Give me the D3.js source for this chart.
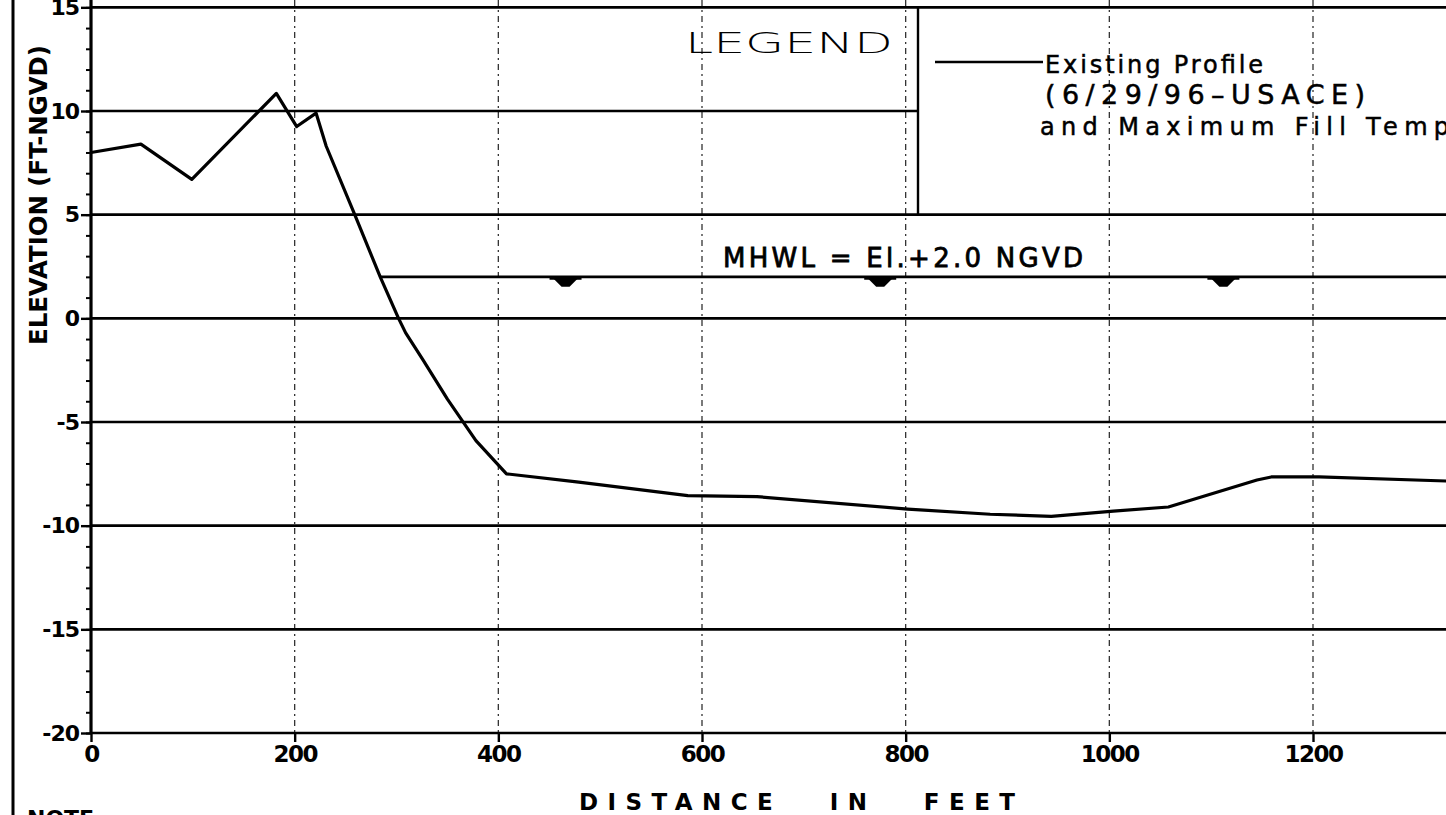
<!DOCTYPE html>
<html>
<head>
<meta charset="utf-8">
<script src="https://cdn.jsdelivr.net/npm/d3@7"></script>
<style>
  html, body { margin: 0; padding: 0; background: #fff; overflow: hidden; }
  svg { display: block; }
  text { font-family: "DejaVu Sans", sans-serif; fill: #000; }
</style>
</head>
<body>
<svg id="chart"></svg>
<script>
// Profile points (distance in feet, elevation ft-NGVD)
const distance = [0, 49, 99, 182, 202, 221, 231, 259, 284, 302, 309, 326, 350, 378, 408, 479, 586, 654, 802, 883, 943, 1004, 1058, 1145, 1159, 1206, 1333];
const elevation = [8.0, 8.4, 6.7, 10.85, 9.25, 9.9, 8.3, 5.0, 2.0, 0.0, -0.7, -2.0, -3.9, -5.9, -7.5, -7.9, -8.55, -8.6, -9.2, -9.45, -9.55, -9.3, -9.1, -7.8, -7.65, -7.65, -7.85];

// Axis ticks
const xTicks = [0, 200, 400, 600, 800, 1000, 1200];
const yTicks = [15, 10, 5, 0, -5, -10, -15, -20];
const yMinor = d3.range(-20, 16);

// Mean high water line and its water level marks
const mhwl = 2.0;
const mhwlStart = 284;
const waterMarks = [466, 775, 1112];

const width = 1446;
const height = 815;
const legendX = 918; // right edge of the LEGEND box

const x = d3.scaleLinear().domain([0, 1200]).range([91, 1313]);
const y = d3.scaleLinear().domain([-20, 10]).range([733, 111]);

const svg = d3.select("#chart").attr("width", width).attr("height", height);
svg.append("rect").attr("width", width).attr("height", height).attr("fill", "#fff");

// page frame line on the left
svg.append("line")
  .attr("x1", 13).attr("x2", 13).attr("y1", 0).attr("y2", height)
  .attr("stroke", "#000").attr("stroke-width", 3);

// dashed vertical grid
svg.append("g")
  .selectAll("line")
  .data(xTicks.slice(1))
  .join("line")
  .attr("x1", (d) => x(d)).attr("x2", (d) => x(d))
  .attr("y1", 0).attr("y2", y(-20))
  .attr("stroke", "#333")
  .attr("stroke-width", 1.3)
  .attr("stroke-dasharray", "6,4,2,4");

// horizontal grid (the 10 ft line stops at the legend box)
svg.append("g")
  .selectAll("line")
  .data(yTicks)
  .join("line")
  .attr("x1", x(0))
  .attr("x2", (d) => (d === 10 ? legendX : width))
  .attr("y1", (d) => y(d)).attr("y2", (d) => y(d))
  .attr("stroke", "#000")
  .attr("stroke-width", 2.6);

// legend box side
svg.append("line")
  .attr("x1", legendX).attr("x2", legendX)
  .attr("y1", y(15)).attr("y2", y(5))
  .attr("stroke", "#000").attr("stroke-width", 2.4);

// minor ticks on y axis
svg.append("g")
  .attr("transform", `translate(${x(0)},0)`)
  .call(d3.axisLeft(y).tickValues(yMinor).tickSize(5).tickSizeOuter(0).tickFormat(""))
  .call((g) => g.select(".domain").remove())
  .selectAll("line").attr("stroke-width", 2);

// y axis
const yAxis = svg.append("g")
  .attr("transform", `translate(${x(0)},0)`)
  .call(d3.axisLeft(y).tickValues(yTicks).tickSize(10).tickSizeOuter(0).tickPadding(2)
    .tickFormat((d) => String(d)));
yAxis.select(".domain").attr("d", `M0,0V${y(-20)}`).attr("stroke-width", 3.2);
yAxis.selectAll("line").attr("stroke-width", 2.4);
yAxis.selectAll("text")
  .attr("font-size", 22).attr("font-weight", "bold")
  .attr("letter-spacing", -1)
  .attr("font-family", "DejaVu Sans");

// x axis
const xAxis = svg.append("g")
  .attr("transform", `translate(0,${y(-20)})`)
  .call(d3.axisBottom(x).tickValues(xTicks).tickSize(9).tickSizeOuter(0).tickPadding(4)
    .tickFormat((d) => String(d)));
xAxis.select(".domain").remove();
xAxis.selectAll("line").attr("stroke-width", 2.4);
xAxis.selectAll("text")
  .attr("font-size", 23).attr("font-weight", "bold")
  .attr("letter-spacing", -1.5)
  .attr("font-family", "DejaVu Sans");

// MHWL line
svg.append("line")
  .attr("x1", x(mhwlStart)).attr("x2", width)
  .attr("y1", y(mhwl)).attr("y2", y(mhwl))
  .attr("stroke", "#000").attr("stroke-width", 2.6);

// water level marks under the MHWL line
const marks = svg.append("g").selectAll("g").data(waterMarks).join("g")
  .attr("transform", (d) => `translate(${x(d)},${y(mhwl)})`);
marks.append("path")
  .attr("d", "M-12,2 L12,2 L4,10 L-4,10 Z")
  .attr("fill", "#000");
marks.append("line")
  .attr("x1", -16).attr("x2", 16).attr("y1", 2).attr("y2", 2)
  .attr("stroke", "#000").attr("stroke-width", 2);

// existing profile
const pts = distance.map((d, i) => [d, elevation[i]]);
svg.append("path")
  .datum(pts)
  .attr("fill", "none")
  .attr("stroke", "#000")
  .attr("stroke-width", 3.2)
  .attr("stroke-linejoin", "round")
  .attr("d", d3.line().x((d) => x(d[0])).y((d) => y(d[1])));

// MHWL label
svg.append("text")
  .attr("x", 723).attr("y", 267)
  .attr("font-size", 26)
  .attr("stroke", "#000").attr("stroke-width", 0.8)
  .attr("textLength", 360)
  .attr("lengthAdjust", "spacing")
  .text("MHWL = El.+2.0 NGVD");

// legend
svg.append("text")
  .attr("x", 685).attr("y", 53)
  .attr("font-size", 29)
  .attr("font-weight", 200)
  .attr("textLength", 208)
  .attr("lengthAdjust", "spacingAndGlyphs")
  .text("LEGEND");

svg.append("line")
  .attr("x1", 935).attr("x2", 1043).attr("y1", 62).attr("y2", 62)
  .attr("stroke", "#000").attr("stroke-width", 2.6);

const legendLines = [
  { text: "Existing Profile", y: 73, len: 218, size: 24 },
  { text: "(6/29/96\u2013USACE)", y: 104, len: 320, size: 27 },
  { text: "and Maximum Fill Template", y: 135, len: 480, size: 24 }
];
svg.append("g").selectAll("text").data(legendLines).join("text")
  .attr("x", (d, i) => (i === 2 ? 1040 : 1045))
  .attr("y", (d) => d.y)
  .attr("font-size", (d) => d.size)
  .attr("stroke", "#000").attr("stroke-width", 0.5)
  .attr("textLength", (d) => d.len)
  .attr("lengthAdjust", "spacing")
  .text((d) => d.text);

// axis titles
svg.append("text")
  .attr("transform", "translate(47,195) rotate(-90)")
  .attr("text-anchor", "middle")
  .attr("font-size", 25)
  .attr("font-weight", "bold")
  .attr("textLength", 300)
  .attr("lengthAdjust", "spacingAndGlyphs")
  .text("ELEVATION (FT-NGVD)");

svg.append("text")
  .attr("x", 579).attr("y", 810)
  .attr("font-size", 23)
  .attr("font-weight", "bold")
  .attr("textLength", 436)
  .attr("lengthAdjust", "spacing")
  .attr("word-spacing", 30)
  .text("DISTANCE IN FEET");

svg.append("text")
  .attr("x", 27).attr("y", 826)
  .attr("font-size", 22)
  .attr("font-weight", "bold")
  .text("NOTE");
</script>
</body>
</html>
